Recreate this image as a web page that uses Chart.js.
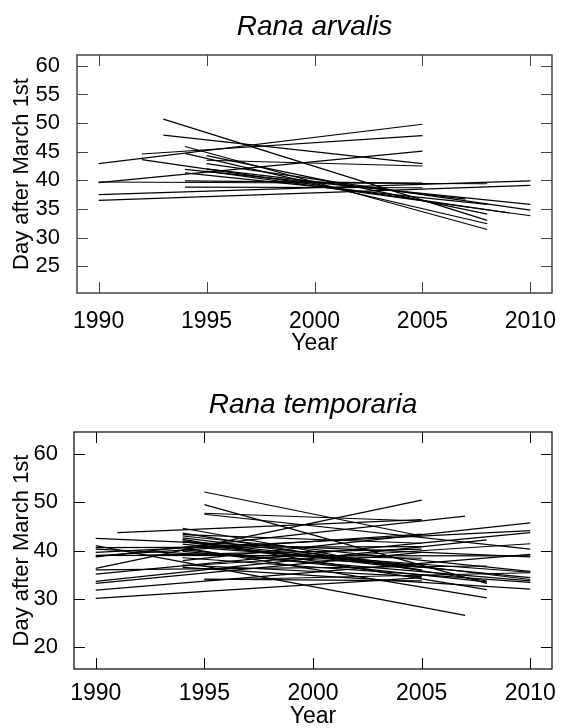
<!DOCTYPE html>
<html>
<head>
<meta charset="utf-8">
<title>Rana spawning trends</title>
<script src="https://cdn.jsdelivr.net/npm/chart.js@4.4.0/dist/chart.umd.min.js"></script>
<style>
  html, body { margin: 0; padding: 0; background: #fff; }
  .panel { position: absolute; left: 0; width: 568px; height: 364px; }
</style>
</head>
<body>
<div class="panel" style="top:0"><canvas id="arvalis"></canvas></div>
<div class="panel" style="top:364px"><canvas id="temporaria"></canvas></div>
<script>
// tick labels
const yearTicks = [1990, 1995, 2000, 2005, 2010]
const arvalisDayTicks = [25, 30, 35, 40, 45, 50, 55, 60]
const temporariaDayTicks = [20, 30, 40, 50, 60]

// Rana arvalis - one fitted trend line per site (first year -> last year)
const arvalisStartYear = [1990, 1990, 1990, 1990, 1990, 1992, 1992, 1993, 1993, 1994, 1994, 1994, 1994, 1994, 1994, 1995, 1995, 1995, 1995, 1995]
const arvalisStartDay  = [42.9, 39.6, 39.7, 37.5, 36.5, 44.6, 43.6, 50.7, 47.9, 45.9, 44.7, 41.9, 41.3, 39.9, 38.8, 44.3, 43.5, 42.9, 42.0, 41.6]
const arvalisEndYear   = [2005, 2005, 2008, 2010, 2010, 2005, 2009, 2008, 2005, 2008, 2008, 2010, 2008, 2005, 2005, 2008, 2005, 2010, 2007, 2010]
const arvalisEndDay    = [49.8, 45.1, 39.4, 39.9, 39.1, 47.8, 34.3, 33.0, 42.9, 31.4, 32.4, 35.8, 35.8, 39.5, 38.7, 34.1, 42.5, 34.8, 36.7, 33.8]

// Rana temporaria
const temporariaStartYear = [1990, 1990, 1990, 1995, 1995, 1995, 1995, 1995, 1995, 1991, 1990, 1990, 1990, 1990, 1990, 1990, 1990, 1990, 1990, 1994, 1994, 1994, 1994, 1994, 1994, 1994, 1994, 1994, 1994, 1992, 1994, 1994, 1994,
  1994, 1994, 1994, 1990, 1990, 1994, 1995, 1994, 1990]
const temporariaStartDay  = [36.3, 38.7, 41.0, 52.1, 49.5, 47.7, 47.5, 34.1, 33.9, 43.7, 42.5, 40.6, 39.6, 38.9, 35.1, 33.6, 33.2, 31.8, 30.1, 44.6, 43.6, 43.0, 42.3, 42.0, 41.3, 40.6, 39.8, 39.2, 38.5, 39.0, 36.5, 37.9, 36.8,
  41.8, 40.2, 43.3, 40.3, 39.0, 37.0, 40.5, 42.6, 36.0]
const temporariaEndYear   = [2005, 2007, 2007, 2005, 2008, 2005, 2010, 2005, 2010, 2005, 2010, 2005, 2010, 2005, 2010, 2008, 2005, 2010, 2005, 2005, 2008, 2010, 2008, 2005, 2010, 2008, 2010, 2005, 2010, 2005, 2010, 2010, 2010,
  2005, 2008, 2005, 2005, 2010, 2005, 2010, 2010, 2008]
const temporariaEndDay    = [50.4, 47.1, 26.6, 43.0, 33.2, 46.1, 40.3, 33.7, 35.4, 46.4, 38.7, 40.8, 44.1, 43.4, 43.7, 42.2, 39.6, 39.2, 34.4, 35.9, 33.7, 35.7, 31.9, 36.5, 34.4, 30.2, 33.7, 38.4, 33.4, 40.3, 32.0, 45.7, 41.4,
  36.0, 33.5, 41.5, 37.0, 38.9, 34.6, 35.5, 34.0, 36.8]

Chart.defaults.font.family = "'Liberation Sans', Arial, sans-serif"
Chart.defaults.color = '#000'

// inward ticks on all four sides + frame
const boxTicks = {
  id: 'boxTicks',
  afterDraw(chart, args, opts) {
    const { ctx, chartArea: a, scales: { x, y } } = chart
    ctx.save()
    ctx.strokeStyle = opts.color
    ctx.lineWidth = 1
    ctx.beginPath()
    x.ticks.forEach(t => {
      const px = Math.round(x.getPixelForValue(t.value)) + 0.5
      ctx.moveTo(px, a.bottom); ctx.lineTo(px, a.bottom - opts.len)
      ctx.moveTo(px, a.top); ctx.lineTo(px, a.top + opts.len)
    })
    y.ticks.forEach(t => {
      const py = Math.round(y.getPixelForValue(t.value)) + 0.5
      ctx.moveTo(a.left, py); ctx.lineTo(a.left + opts.len, py)
      ctx.moveTo(a.right, py); ctx.lineTo(a.right - opts.len, py)
    })
    ctx.stroke()
    ctx.lineWidth = opts.width
    ctx.strokeRect(a.left, a.top, a.right - a.left, a.bottom - a.top)
    ctx.restore()
  }
}

function makePanel(id, title, startYear, startDay, endYear, endDay, dayTicks, yMin, yMax, dims) {
  const datasets = startYear.map((sy, i) => ({
    data: [{ x: sy, y: startDay[i] }, { x: endYear[i], y: endDay[i] }],
    borderColor: '#000',
    borderWidth: 1.2,
    pointRadius: 0,
    showLine: true
  }))

  return new Chart(document.getElementById(id), {
    type: 'scatter',
    data: { datasets },
    options: {
      responsive: true,
      maintainAspectRatio: false,
      animation: false,
      layout: { padding: { left: 0, right: 16, top: 0, bottom: 0 } },
      plugins: {
        legend: { display: false },
        tooltip: { enabled: false },
        title: {
          display: true,
          text: title,
          fullSize: false,
          font: { size: 28, style: 'italic', weight: 'normal' },
          padding: { top: dims.titleTop, bottom: dims.titleBottom }
        },
        boxTicks: { color: dims.frame, width: dims.frameWidth, len: 11 }
      },
      scales: {
        x: {
          type: 'linear',
          min: 1989,
          max: 2011,
          grid: { display: false },
          border: { display: false },
          afterBuildTicks: s => { s.ticks = yearTicks.map(v => ({ value: v })) },
          afterFit: s => { s.height = dims.xHeight },
          ticks: { font: { size: 23 }, padding: dims.xTickPad, callback: v => String(v), maxRotation: 0, autoSkip: false },
          title: { display: true, text: 'Year', font: { size: 23, lineHeight: 1 }, padding: { top: 0, bottom: dims.yearPad } }
        },
        y: {
          min: yMin,
          max: yMax,
          grid: { display: false },
          border: { display: false },
          afterBuildTicks: s => { s.ticks = dayTicks.map(v => ({ value: v })) },
          afterFit: s => { s.width = dims.yWidth },
          ticks: { font: { size: 22 }, padding: dims.yTickPad, callback: v => String(v), autoSkip: false },
          title: { display: true, text: 'Day after March 1st', font: { size: 22 }, padding: { top: 9, bottom: 0 } }
        }
      }
    },
    plugins: [boxTicks]
  })
}

makePanel('arvalis', 'Rana arvalis', arvalisStartYear, arvalisStartDay, arvalisEndYear, arvalisEndDay,
  arvalisDayTicks, 20.3, 61.9,
  { titleTop: 10, titleBottom: 11.4, xHeight: 71, yWidth: 77, xTickPad: 7, yTickPad: 9, yearPad: 9, frame: '#444', frameWidth: 1.5 })

makePanel('temporaria', 'Rana temporaria', temporariaStartYear, temporariaStartDay, temporariaEndYear, temporariaEndDay,
  temporariaDayTicks, 15.5, 64.5,
  { titleTop: 24, titleBottom: 10.4, xHeight: 59, yWidth: 74, xTickPad: 3, yTickPad: 8, yearPad: 0, frame: '#000', frameWidth: 1.2 })
</script>
</body>
</html>
